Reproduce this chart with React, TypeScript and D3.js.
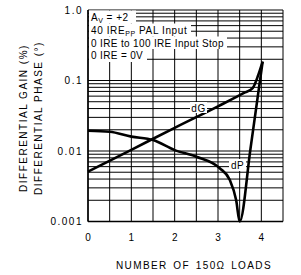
import * as d3 from "d3";

// number of 150 ohm loads vs differential gain / phase
const gainX = [0, 1, 2, 3, 3.6, 3.8, 3.93, 4.03];
const gainY = [0.0051, 0.0104, 0.0213, 0.043, 0.0667, 0.078, 0.12, 0.185];

const phaseX = [0, 0.5, 1, 1.5, 2, 2.5, 3.04, 3.27, 3.42, 3.5, 3.75, 4.03];
const phaseY = [0.0194, 0.0188, 0.016, 0.0143, 0.0103, 0.0083, 0.0057, 0.0039, 0.002, 0.001, 0.0108, 0.185];

const xTicks = [0, 1, 2, 3, 4];
const yTicks = [1, 0.1, 0.01, 0.001];
const yTickLabels = ["1.0", "0.1", "0.01", "0.001"];

const notes = ["0 IRE to 100 IRE Input Stop", "0 IRE = 0V"];

const W = 301;
const H = 275;
const font = "'Liberation Sans', Arial, sans-serif";

export default function App() {
  const x = d3.scaleLinear().domain([0, 4.5]).range([88, 283]);
  const y = d3.scaleLog().domain([0.001, 1]).range([221.5, 10]);

  // grid lines: every half load, every 1..9 of each decade
  const vLines = d3.range(0, 4.51, 0.5);
  const hLines: number[] = [];
  for (let e = -3; e < 0; e++) {
    for (let k = 1; k < 10; k++) hLines.push(k * Math.pow(10, e));
  }
  hLines.push(1);

  const makePath = (xs: number[], ys: number[]) =>
    d3
      .line<number>()
      .x((d, i) => x(xs[i]))
      .y((d) => y(d))
      .curve(d3.curveMonotoneX)(ys) ?? "";

  const [x0, x1] = x.range();
  const [y0, y1] = y.range();

  // white boxes behind the notes
  const rowY = [17, 30, 43, 55];
  const rowEnd = [136, 191, 227, 147];
  const rowTop = [10.5, 23.5, 36.5, 49];
  const rowBottom = [23.5, 36.5, 49, 62];

  return (
    <svg
      width={W}
      height={H}
      style={{ position: "absolute", left: 0, top: 0, background: "#fff" }}
      fontFamily={font}
    >
      <g stroke="#000" strokeWidth={1}>
        {vLines.map((v) => (
          <line key={"v" + v} x1={x(v)} x2={x(v)} y1={y0} y2={y1} />
        ))}
        {hLines.map((v) => (
          <line key={"h" + v} x1={x0} x2={x1} y1={y(v)} y2={y(v)} />
        ))}
      </g>
      <line x1={x0} x2={x1} y1={y0} y2={y0} stroke="#000" strokeWidth={1.5} />
      <line x1={x0} x2={x0} y1={y0} y2={y1} stroke="#000" strokeWidth={1.5} />

      {rowY.map((r, i) => (
        <rect
          key={"nb" + i}
          x={x0 + 1}
          y={rowTop[i]}
          width={rowEnd[i] - x0 - 1}
          height={rowBottom[i] - rowTop[i]}
          fill="#fff"
        />
      ))}
      <g fontSize={10} fill="#000" letterSpacing={0.5}>
        <text x={91} y={rowY[0] + 3.5}>
          A<tspan fontSize={7} dy={2}>V</tspan>
          <tspan dy={-2}> = +2</tspan>
        </text>
        <text x={91} y={rowY[1] + 3.5} letterSpacing={0.6}>
          40 IRE<tspan fontSize={7} dy={2}>PP</tspan>
          <tspan dy={-2}> PAL Input</tspan>
        </text>
        <text x={91} y={rowY[2] + 3.5} letterSpacing={0.35}>
          {notes[0]}
        </text>
        <text x={91} y={rowY[3] + 3.5} letterSpacing={0.35}>
          {notes[1]}
        </text>
      </g>

      <path d={makePath(gainX, gainY)} fill="none" stroke="#000" strokeWidth={2.6} strokeLinejoin="round" />
      <path d={makePath(phaseX, phaseY)} fill="none" stroke="#000" strokeWidth={2.6} strokeLinejoin="round" />

      {/* curve labels */}
      <rect x={190} y={102} width={17} height={11} fill="#fff" />
      <text x={198.5} y={111.5} fontSize={10} textAnchor="middle" letterSpacing={0.5}>
        dG
      </text>
      <rect x={229} y={159} width={17} height={12} fill="#fff" />
      <text x={237.5} y={168.5} fontSize={10} textAnchor="middle" letterSpacing={0.5}>
        dP
      </text>

      <g fontSize={10} fill="#000" letterSpacing={1.5}>
        {yTicks.map((v, i) => (
          <text key={"yt" + v} x={83} y={y(v) + 3.5} textAnchor="end">
            {yTickLabels[i]}
          </text>
        ))}
        {xTicks.map((v) => (
          <text key={"xt" + v} x={x(v) + 0.75} y={240.5} textAnchor="middle">
            {v}
          </text>
        ))}
      </g>

      <text x={194} y={269} fontSize={10} textAnchor="middle" letterSpacing={1.4} wordSpacing={1.5}>
        NUMBER OF 150Ω LOADS
      </text>
      <g fontSize={10} letterSpacing={1.5} textAnchor="middle">
        <text transform="translate(27,118) rotate(-90)">DIFFERENTIAL GAIN (%)</text>
        <text transform="translate(42,118) rotate(-90)">DIFFERENTIAL PHASE (°)</text>
      </g>
    </svg>
  );
}
